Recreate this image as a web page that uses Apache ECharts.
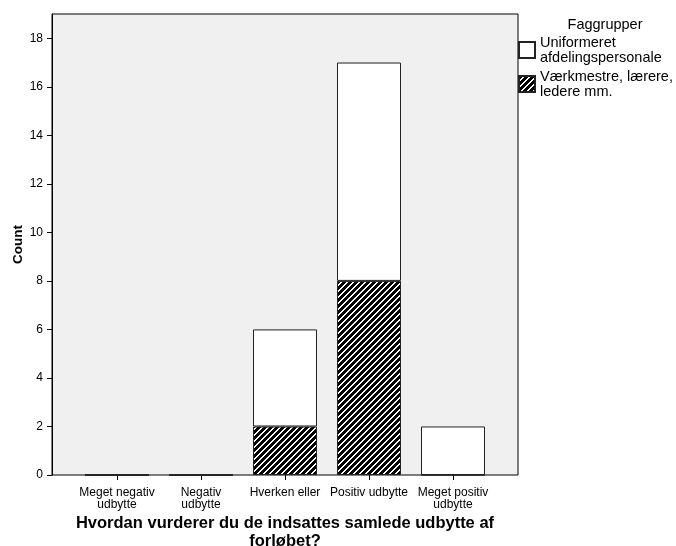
<!DOCTYPE html>
<html>
<head>
<meta charset="utf-8">
<script src="https://cdn.jsdelivr.net/npm/echarts@6/dist/echarts.min.js"></script>
<style>
  html, body { margin: 0; padding: 0; background: #fff; }
  #chart { width: 676px; height: 546px; }
</style>
</head>
<body>
<div id="chart"></div>
<script>
// kategorier og værdier
var categories = ['Meget negativ\nudbytte', 'Negativ\nudbytte', 'Hverken eller', 'Positiv udbytte', 'Meget positiv\nudbytte'];
var uniformeret = [0, 0, 4, 9, 2];
var vaerkmestre = [0, 0, 2, 8, 0];
var yTicks = [0, 2, 4, 6, 8, 10, 12, 14, 16, 18];

var fontFam = "'Liberation Sans', Arial, sans-serif";

// skraveret mønster ///
function makeHatch() {
    var c = document.createElement('canvas');
    c.width = 6; c.height = 6;
    var ctx = c.getContext('2d');
    var img = ctx.createImageData(6, 6);
    for (var y = 0; y < 6; y++) {
        for (var x = 0; x < 6; x++) {
            var v = ((x + y) % 6) < 4 ? 0 : 255;
            var k = (y * 6 + x) * 4;
            img.data[k] = v; img.data[k + 1] = v; img.data[k + 2] = v; img.data[k + 3] = 255;
        }
    }
    ctx.putImageData(img, 0, 0);
    return c;
}

var chart = echarts.init(document.getElementById('chart'));
var option = {
    animation: false,
    textStyle: { fontFamily: fontFam, color: '#000' },
    title: {
        text: 'Faggrupper',
        left: 605,
        textAlign: 'center',
        top: 17,
        padding: 0,
        textStyle: { fontFamily: fontFam, fontSize: 14.5, fontWeight: 'normal', color: '#000' }
    },
    legend: {
        orient: 'vertical',
        left: 518,
        top: 35,
        padding: 0,
        itemWidth: 16,
        itemHeight: 16,
        itemGap: 4,
        icon: 'rect',
        data: ['Uniformeret\nafdelingspersonale', 'Værkmestre, lærere,\nledere mm.'],
        textStyle: { fontFamily: fontFam, fontSize: 14.5, lineHeight: 15, color: '#000' }
    },
    grid: [
        {
            left: 52, right: 158, top: 14, bottom: 71,
            outerBoundsMode: 'none',
            show: true,
            backgroundColor: '#f0f0f0',
            borderColor: '#000',
            borderWidth: 1
        },
        { left: 75, right: 181, top: 14, bottom: 71, outerBoundsMode: 'none' }
    ],
    xAxis: [
        { gridIndex: 0, type: 'value', show: false },
        {
            gridIndex: 1,
            type: 'category',
            data: categories,
            axisLine: { show: false },
            axisTick: { show: true, alignWithLabel: true, length: 5, lineStyle: { color: '#000' } },
            axisLabel: {
                interval: 0,
                fontSize: 12,
                lineHeight: 11.5,
                margin: 12,
                color: '#000',
                fontFamily: fontFam
            },
            name: 'Hvordan vurderer du de indsattes samlede udbytte af\nforløbet?',
            nameLocation: 'middle',
            nameGap: 39,
            nameMoveOverlap: false,
            nameTextStyle: { fontFamily: fontFam, fontSize: 16.5, fontWeight: 'bold', lineHeight: 18, color: '#000' }
        }
    ],
    yAxis: [
        { gridIndex: 0, type: 'value', show: false },
        {
            gridIndex: 1,
            type: 'value',
            min: 0,
            max: 19,
            offset: 23,
            splitLine: { show: false },
            axisLine: { show: true, lineStyle: { color: '#000', width: 1 } },
            axisTick: { show: true, length: 5, customValues: yTicks, lineStyle: { color: '#000' } },
            axisLabel: { customValues: yTicks, fontSize: 12, margin: 9, color: '#000', fontFamily: fontFam },
            name: 'Count',
            nameLocation: 'middle',
            nameRotate: 90,
            nameGap: 27,
            nameMoveOverlap: false,
            nameTextStyle: { fontFamily: fontFam, fontSize: 13.5, fontWeight: 'bold', color: '#000' }
        }
    ],
    series: [
        {
            name: 'Værkmestre, lærere,\nledere mm.',
            type: 'bar',
            xAxisIndex: 1,
            yAxisIndex: 1,
            stack: 'total',
            barWidth: 64,
            data: vaerkmestre,
            itemStyle: { color: { image: makeHatch(), repeat: 'repeat' }, borderColor: '#222', borderWidth: 1 }
        },
        {
            name: 'Uniformeret\nafdelingspersonale',
            type: 'bar',
            xAxisIndex: 1,
            yAxisIndex: 1,
            stack: 'total',
            barWidth: 64,
            data: uniformeret,
            itemStyle: { color: '#ffffff', borderColor: '#222', borderWidth: 1 }
        }
    ]
};
chart.setOption(option);
</script>
</body>
</html>
